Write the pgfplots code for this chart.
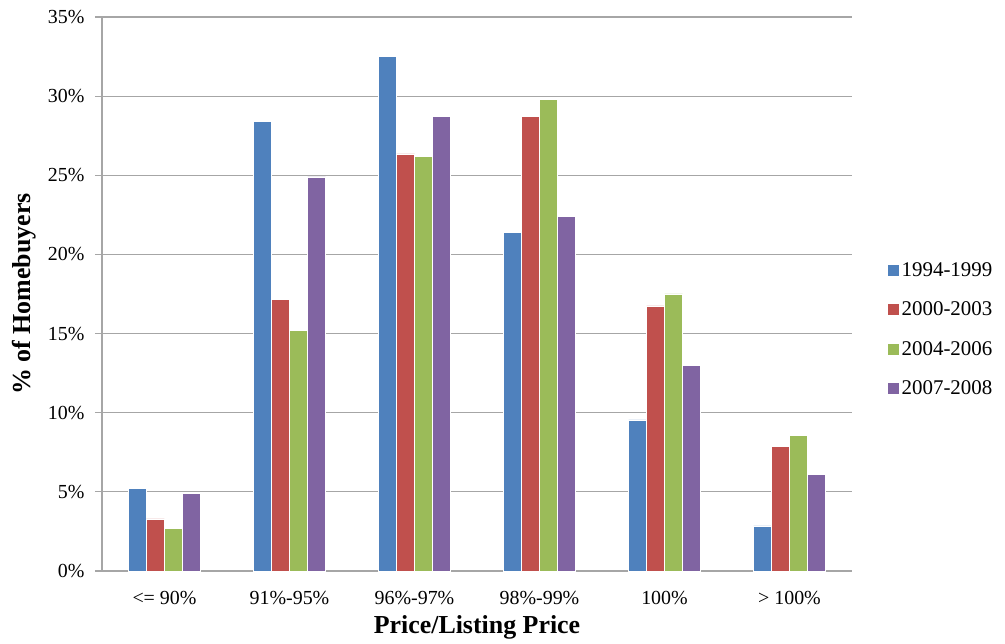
\documentclass[border=0pt]{standalone}
\usepackage{pgfplots}
\pgfplotsset{compat=1.18}
\usepackage{fontspec}
\setmainfont{Liberation Serif}

\definecolor{xlblue}{HTML}{4F81BD}
\definecolor{xlred}{HTML}{C0504D}
\definecolor{xlgreen}{HTML}{9BBB59}
\definecolor{xlpurple}{HTML}{8064A2}
\definecolor{gridgray}{HTML}{A6A6A6}

\begin{document}
\begin{tikzpicture}
  % page = 1005 x 644 px, axis box 750 x 554 px
  \useasboundingbox (-102bp,-73bp) rectangle (903bp,571bp);
  \begin{axis}[
    at={(0,0)}, anchor=south west,
    scale only axis,
    width=750bp, height=554bp,
    ybar=0pt, bar width=18bp,
    xmin=-0.5, xmax=5.5,
    ymin=0, ymax=35,
    ytick={0,5,...,35},
    xtick=data,
    xticklabels={{<= 90\%},{91\%-95\%},{96\%-97\%},{98\%-99\%},{100\%},{> 100\%}},
    yticklabel={\pgfmathprintnumber{\tick}\%},
    /pgf/number format/assume math mode=true,
    axis x line*=bottom, axis y line*=left,
    axis line style={-, draw=gridgray, line width=1.2bp},
    ymajorgrids,
    grid style={draw=gridgray, line width=1.2bp},
    xtick style={draw=none},
    ytick style={draw=gridgray, line width=1.2bp},
    tick align=outside, major tick length=7bp,
    tick label style={font=\fontsize{20}{24}\selectfont},
    yticklabel style={xshift=-7bp},
    xticklabel style={yshift=-10bp},
    xlabel={Price/Listing Price},
    ylabel={\% of Homebuyers},
    label style={font=\bfseries\fontsize{26}{30}\selectfont},
    xlabel style={at={(axis description cs:0.5,-0.101)}, anchor=center},
    ylabel style={at={(axis description cs:-0.1040,0.5)}, anchor=center},
    legend style={
      at={(1,0.436)}, anchor=west, xshift=32bp,
      draw=none, fill=none,
      font=\fontsize{21}{25}\selectfont,
      row sep=20bp,
      cells={anchor=west},
    },
    legend image code/.code={\fill[#1] (0bp,-6bp) rectangle (12bp,6bp);},
    every axis plot/.append style={draw=white, line width=0.5bp},
    ]
    \addplot[fill=xlblue] coordinates {
      (0,5.2) (1,28.4) (2,32.5) (3,21.4) (4,9.55) (5,2.85)
    };
    \addplot[fill=xlred] coordinates {
      (0,3.3) (1,17.15) (2,26.35) (3,28.7) (4,16.75) (5,7.85)
    };
    \addplot[fill=xlgreen] coordinates {
      (0,2.7) (1,15.2) (2,26.2) (3,29.8) (4,17.5) (5,8.55)
    };
    \addplot[fill=xlpurple] coordinates {
      (0,4.9) (1,24.9) (2,28.7) (3,22.4) (4,13.0) (5,6.1)
    };
    \legend{1994-1999,2000-2003,2004-2006,2007-2008}
  \end{axis}
\end{tikzpicture}
\end{document}
